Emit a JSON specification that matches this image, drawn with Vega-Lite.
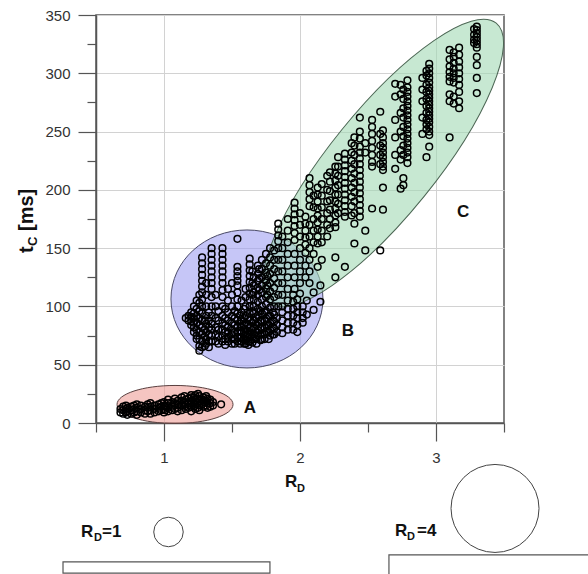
{
 "$schema": "https://vega.github.io/schema/vega-lite/v6.json",
 "width": 408, "height": 408,
 "autosize": "none",
 "padding": {"left": 96, "top": 15, "right": 84, "bottom": 151},
 "background": "white",
 "config": {"font": "Liberation Sans", "view": {"stroke": "#5a5a5a", "strokeWidth": 1.5}},
 "datasets": {
  "ellA": [{"r": 1.081, "t": 15.9}],
  "ellB": [{"r": 1.610, "t": 106.4}],
  "ellC": [{"r": 2.610, "t": 223.0}],
  "pts": [
{"r":0.68,"t":9},{"r":0.68,"t":12},
{"r":0.70,"t":8},{"r":0.70,"t":11},{"r":0.70,"t":14},
{"r":0.72,"t":9},{"r":0.72,"t":12},{"r":0.72,"t":15},
{"r":0.73,"t":7},{"r":0.73,"t":10},{"r":0.73,"t":13},
{"r":0.76,"t":8},{"r":0.76,"t":11},{"r":0.76,"t":14},
{"r":0.78,"t":9},{"r":0.78,"t":12},{"r":0.78,"t":15},
{"r":0.80,"t":7},{"r":0.80,"t":10},{"r":0.80,"t":13},{"r":0.80,"t":16},
{"r":0.83,"t":9},{"r":0.83,"t":12},{"r":0.83,"t":15},
{"r":0.86,"t":8},{"r":0.86,"t":11},{"r":0.86,"t":14},
{"r":0.88,"t":10},{"r":0.88,"t":13},{"r":0.88,"t":16},
{"r":0.90,"t":8},{"r":0.90,"t":11},{"r":0.90,"t":14},{"r":0.90,"t":17},
{"r":0.93,"t":9},{"r":0.93,"t":12},{"r":0.93,"t":15},
{"r":0.96,"t":10},{"r":0.96,"t":13},{"r":0.96,"t":16},
{"r":0.98,"t":11},{"r":0.98,"t":14},{"r":0.98,"t":17},
{"r":1.00,"t":9},{"r":1.00,"t":12},{"r":1.00,"t":15},{"r":1.00,"t":18},
{"r":1.01,"t":11},{"r":1.01,"t":14},
{"r":1.03,"t":10},{"r":1.03,"t":13},{"r":1.03,"t":17},{"r":1.03,"t":20},
{"r":1.06,"t":11},{"r":1.06,"t":14},{"r":1.06,"t":18},
{"r":1.08,"t":12},{"r":1.08,"t":15},{"r":1.08,"t":17},{"r":1.08,"t":21},
{"r":1.10,"t":10},{"r":1.10,"t":13},{"r":1.10,"t":16},{"r":1.10,"t":19},
{"r":1.13,"t":11},{"r":1.13,"t":15},{"r":1.13,"t":19},{"r":1.13,"t":22},
{"r":1.15,"t":14},{"r":1.15,"t":18},{"r":1.15,"t":23},
{"r":1.16,"t":12},{"r":1.16,"t":16},{"r":1.16,"t":20},
{"r":1.18,"t":13},{"r":1.18,"t":17},{"r":1.18,"t":21},
{"r":1.20,"t":10},{"r":1.20,"t":14},{"r":1.20,"t":18},{"r":1.20,"t":22},{"r":1.20,"t":24},
{"r":1.22,"t":14},{"r":1.22,"t":18},{"r":1.22,"t":22},
{"r":1.23,"t":12},{"r":1.23,"t":16},{"r":1.23,"t":20},{"r":1.23,"t":24},
{"r":1.25,"t":13},{"r":1.25,"t":17},{"r":1.25,"t":21},{"r":1.25,"t":25},
{"r":1.26,"t":11},{"r":1.26,"t":15},{"r":1.26,"t":19},{"r":1.26,"t":23},
{"r":1.28,"t":16},{"r":1.28,"t":20},
{"r":1.29,"t":14},{"r":1.29,"t":18},{"r":1.29,"t":22},
{"r":1.31,"t":15},{"r":1.31,"t":19},{"r":1.31,"t":23},
{"r":1.32,"t":13},{"r":1.32,"t":17},{"r":1.32,"t":21},
{"r":1.34,"t":14},{"r":1.34,"t":17},{"r":1.34,"t":20},
{"r":1.36,"t":15},{"r":1.36,"t":18},
{"r":1.42,"t":16},
{"r":1.16,"t":90},
{"r":1.18,"t":92},{"r":1.18,"t":88},
{"r":1.20,"t":95},{"r":1.20,"t":91},{"r":1.20,"t":87},{"r":1.20,"t":84},
{"r":1.22,"t":100},{"r":1.22,"t":94},{"r":1.22,"t":90},{"r":1.22,"t":86},{"r":1.22,"t":82},{"r":1.22,"t":78},
{"r":1.24,"t":105},{"r":1.24,"t":98},{"r":1.24,"t":92},{"r":1.24,"t":86},{"r":1.24,"t":80},{"r":1.24,"t":75},{"r":1.24,"t":72},
{"r":1.26,"t":110},{"r":1.26,"t":103},{"r":1.26,"t":96},{"r":1.26,"t":90},{"r":1.26,"t":84},{"r":1.26,"t":78},{"r":1.26,"t":72},{"r":1.26,"t":66},{"r":1.26,"t":62},
{"r":1.28,"t":142},{"r":1.28,"t":137},{"r":1.28,"t":132},{"r":1.28,"t":127},{"r":1.28,"t":122},{"r":1.28,"t":117},{"r":1.28,"t":112},{"r":1.28,"t":106},{"r":1.28,"t":100},{"r":1.28,"t":94},{"r":1.28,"t":88},{"r":1.28,"t":82},{"r":1.28,"t":76},{"r":1.28,"t":70},{"r":1.28,"t":65},
{"r":1.30,"t":88},{"r":1.30,"t":80},{"r":1.30,"t":74},{"r":1.30,"t":66},
{"r":1.31,"t":120},{"r":1.31,"t":110},{"r":1.31,"t":100},{"r":1.31,"t":92},{"r":1.31,"t":85},{"r":1.31,"t":78},{"r":1.31,"t":72},{"r":1.31,"t":68},
{"r":1.33,"t":95},{"r":1.33,"t":88},{"r":1.33,"t":82},{"r":1.33,"t":76},{"r":1.33,"t":70},{"r":1.33,"t":65},
{"r":1.35,"t":150},{"r":1.35,"t":145},{"r":1.35,"t":140},{"r":1.35,"t":135},{"r":1.35,"t":130},{"r":1.35,"t":125},{"r":1.35,"t":120},{"r":1.35,"t":115},{"r":1.35,"t":108},{"r":1.35,"t":100},{"r":1.35,"t":92},{"r":1.35,"t":85},{"r":1.35,"t":80},{"r":1.35,"t":75},{"r":1.35,"t":70},
{"r":1.38,"t":110},{"r":1.38,"t":100},{"r":1.38,"t":90},{"r":1.38,"t":82},{"r":1.38,"t":76},{"r":1.38,"t":70},
{"r":1.40,"t":96},{"r":1.40,"t":88},{"r":1.40,"t":80},{"r":1.40,"t":74},{"r":1.40,"t":68},
{"r":1.43,"t":150},{"r":1.43,"t":145},{"r":1.43,"t":140},{"r":1.43,"t":135},{"r":1.43,"t":130},{"r":1.43,"t":125},{"r":1.43,"t":120},{"r":1.43,"t":114},{"r":1.43,"t":108},{"r":1.43,"t":100},{"r":1.43,"t":92},{"r":1.43,"t":86},{"r":1.43,"t":80},{"r":1.43,"t":75},{"r":1.43,"t":70},
{"r":1.45,"t":98},{"r":1.45,"t":90},{"r":1.45,"t":84},{"r":1.45,"t":78},{"r":1.45,"t":72},{"r":1.45,"t":67},
{"r":1.47,"t":115},{"r":1.47,"t":105},{"r":1.47,"t":95},{"r":1.47,"t":88},{"r":1.47,"t":82},{"r":1.47,"t":78},{"r":1.47,"t":74},{"r":1.47,"t":70},
{"r":1.50,"t":120},{"r":1.50,"t":110},{"r":1.50,"t":100},{"r":1.50,"t":92},{"r":1.50,"t":86},{"r":1.50,"t":80},{"r":1.50,"t":76},{"r":1.50,"t":72},{"r":1.50,"t":68},
{"r":1.52,"t":96},{"r":1.52,"t":90},{"r":1.52,"t":84},{"r":1.52,"t":78},{"r":1.52,"t":72},{"r":1.52,"t":68},
{"r":1.54,"t":158},{"r":1.54,"t":134},{"r":1.54,"t":130},{"r":1.54,"t":126},{"r":1.54,"t":122},{"r":1.54,"t":118},{"r":1.54,"t":112},{"r":1.54,"t":106},{"r":1.54,"t":100},{"r":1.54,"t":94},{"r":1.54,"t":88},{"r":1.54,"t":82},{"r":1.54,"t":78},{"r":1.54,"t":74},{"r":1.54,"t":70},
{"r":1.56,"t":92},{"r":1.56,"t":85},{"r":1.56,"t":79},{"r":1.56,"t":73},{"r":1.56,"t":68},
{"r":1.57,"t":105},{"r":1.57,"t":95},{"r":1.57,"t":88},{"r":1.57,"t":82},{"r":1.57,"t":78},{"r":1.57,"t":74},{"r":1.57,"t":70},
{"r":1.59,"t":98},{"r":1.59,"t":90},{"r":1.59,"t":84},{"r":1.59,"t":78},{"r":1.59,"t":72},{"r":1.59,"t":68},
{"r":1.60,"t":115},{"r":1.60,"t":108},{"r":1.60,"t":100},{"r":1.60,"t":92},{"r":1.60,"t":86},{"r":1.60,"t":80},{"r":1.60,"t":76},{"r":1.60,"t":72},{"r":1.60,"t":68},
{"r":1.62,"t":90},{"r":1.62,"t":84},{"r":1.62,"t":76},{"r":1.62,"t":70},{"r":1.62,"t":67},
{"r":1.63,"t":141},{"r":1.63,"t":136},{"r":1.63,"t":131},{"r":1.63,"t":126},{"r":1.63,"t":121},{"r":1.63,"t":116},{"r":1.63,"t":111},{"r":1.63,"t":106},{"r":1.63,"t":100},{"r":1.63,"t":94},{"r":1.63,"t":88},{"r":1.63,"t":82},{"r":1.63,"t":78},{"r":1.63,"t":74},{"r":1.63,"t":70},
{"r":1.65,"t":130},{"r":1.65,"t":120},{"r":1.65,"t":110},{"r":1.65,"t":96},{"r":1.65,"t":86},{"r":1.65,"t":80},{"r":1.65,"t":74},{"r":1.65,"t":69},
{"r":1.66,"t":125},{"r":1.66,"t":118},{"r":1.66,"t":112},{"r":1.66,"t":106},{"r":1.66,"t":100},{"r":1.66,"t":94},{"r":1.66,"t":88},{"r":1.66,"t":82},{"r":1.66,"t":76},{"r":1.66,"t":72},
{"r":1.68,"t":90},{"r":1.68,"t":84},{"r":1.68,"t":78},{"r":1.68,"t":72},{"r":1.68,"t":68},
{"r":1.69,"t":135},{"r":1.69,"t":128},{"r":1.69,"t":122},{"r":1.69,"t":116},{"r":1.69,"t":110},{"r":1.69,"t":104},{"r":1.69,"t":98},{"r":1.69,"t":92},{"r":1.69,"t":86},{"r":1.69,"t":80},{"r":1.69,"t":75},
{"r":1.70,"t":132},{"r":1.70,"t":124},{"r":1.70,"t":114},
{"r":1.71,"t":96},{"r":1.71,"t":88},{"r":1.71,"t":82},{"r":1.71,"t":76},{"r":1.71,"t":71},
{"r":1.72,"t":140},{"r":1.72,"t":132},{"r":1.72,"t":125},{"r":1.72,"t":118},{"r":1.72,"t":112},{"r":1.72,"t":106},{"r":1.72,"t":100},{"r":1.72,"t":94},{"r":1.72,"t":88},{"r":1.72,"t":82},{"r":1.72,"t":77},{"r":1.72,"t":72},
{"r":1.74,"t":95},{"r":1.74,"t":88},{"r":1.74,"t":82},{"r":1.74,"t":76},{"r":1.74,"t":72},
{"r":1.75,"t":145},{"r":1.75,"t":137},{"r":1.75,"t":129},{"r":1.75,"t":122},{"r":1.75,"t":115},{"r":1.75,"t":108},{"r":1.75,"t":102},{"r":1.75,"t":96},{"r":1.75,"t":90},{"r":1.75,"t":84},{"r":1.75,"t":78},
{"r":1.76,"t":126},{"r":1.76,"t":118},{"r":1.76,"t":110},
{"r":1.77,"t":92},{"r":1.77,"t":84},{"r":1.77,"t":78},{"r":1.77,"t":72},
{"r":1.78,"t":150},{"r":1.78,"t":142},{"r":1.78,"t":135},{"r":1.78,"t":128},{"r":1.78,"t":120},{"r":1.78,"t":113},{"r":1.78,"t":106},{"r":1.78,"t":99},{"r":1.78,"t":92},{"r":1.78,"t":86},{"r":1.78,"t":80},{"r":1.78,"t":75},
{"r":1.80,"t":95},{"r":1.80,"t":88},{"r":1.80,"t":82},{"r":1.80,"t":76},
{"r":1.81,"t":148},{"r":1.81,"t":140},{"r":1.81,"t":132},{"r":1.81,"t":124},{"r":1.81,"t":116},{"r":1.81,"t":108},{"r":1.81,"t":100},{"r":1.81,"t":93},{"r":1.81,"t":87},{"r":1.81,"t":81},{"r":1.81,"t":76},
{"r":1.83,"t":90},{"r":1.83,"t":84},{"r":1.83,"t":78},
{"r":1.84,"t":171},{"r":1.84,"t":166},{"r":1.84,"t":161},{"r":1.84,"t":156},{"r":1.84,"t":150},{"r":1.84,"t":140},{"r":1.84,"t":130},{"r":1.84,"t":120},{"r":1.84,"t":110},{"r":1.84,"t":100},
{"r":1.87,"t":160},{"r":1.87,"t":150},{"r":1.87,"t":140},{"r":1.87,"t":130},{"r":1.87,"t":120},{"r":1.87,"t":110},{"r":1.87,"t":100},{"r":1.87,"t":95},{"r":1.87,"t":88},{"r":1.87,"t":82},{"r":1.87,"t":77},
{"r":1.91,"t":175},{"r":1.91,"t":165},{"r":1.91,"t":155},{"r":1.91,"t":145},{"r":1.91,"t":135},{"r":1.91,"t":125},{"r":1.91,"t":115},{"r":1.91,"t":105},{"r":1.91,"t":98},{"r":1.91,"t":92},{"r":1.91,"t":86},{"r":1.91,"t":80},
{"r":1.95,"t":110},{"r":1.95,"t":104},{"r":1.95,"t":98},{"r":1.95,"t":92},{"r":1.95,"t":86},{"r":1.95,"t":80},
{"r":1.96,"t":189},{"r":1.96,"t":184},{"r":1.96,"t":179},{"r":1.96,"t":174},{"r":1.96,"t":169},{"r":1.96,"t":163},{"r":1.96,"t":157},{"r":1.96,"t":145},{"r":1.96,"t":135},{"r":1.96,"t":125},{"r":1.96,"t":115},
{"r":1.98,"t":106},{"r":1.98,"t":100},{"r":1.98,"t":95},{"r":1.98,"t":90},{"r":1.98,"t":84},{"r":1.98,"t":78},
{"r":2.00,"t":180},{"r":2.00,"t":170},{"r":2.00,"t":160},{"r":2.00,"t":150},{"r":2.00,"t":140},{"r":2.00,"t":130},{"r":2.00,"t":120},{"r":2.00,"t":111},
{"r":2.02,"t":100},{"r":2.02,"t":95},{"r":2.02,"t":90},{"r":2.02,"t":86},
{"r":2.04,"t":177},{"r":2.04,"t":171},{"r":2.04,"t":165},{"r":2.04,"t":159},{"r":2.04,"t":153},{"r":2.04,"t":146},{"r":2.04,"t":135},{"r":2.04,"t":125},
{"r":2.05,"t":93},{"r":2.05,"t":105},
{"r":2.07,"t":210},{"r":2.07,"t":204},{"r":2.07,"t":198},{"r":2.07,"t":192},{"r":2.07,"t":186},{"r":2.07,"t":170},{"r":2.07,"t":160},{"r":2.07,"t":150},{"r":2.07,"t":140},{"r":2.07,"t":130},{"r":2.07,"t":120},
{"r":2.10,"t":195},{"r":2.10,"t":185},{"r":2.10,"t":175},{"r":2.10,"t":165},{"r":2.10,"t":155},{"r":2.10,"t":145},{"r":2.10,"t":97},{"r":2.10,"t":112},
{"r":2.13,"t":202},{"r":2.13,"t":196},{"r":2.13,"t":190},{"r":2.13,"t":184},{"r":2.13,"t":178},{"r":2.13,"t":172},{"r":2.13,"t":166},{"r":2.13,"t":160},{"r":2.13,"t":154},{"r":2.13,"t":134},
{"r":2.15,"t":104},{"r":2.15,"t":118},
{"r":2.16,"t":205},{"r":2.16,"t":195},{"r":2.16,"t":185},{"r":2.16,"t":175},{"r":2.16,"t":165},{"r":2.16,"t":155},{"r":2.16,"t":140},
{"r":2.20,"t":212},{"r":2.20,"t":200},{"r":2.20,"t":190},{"r":2.20,"t":180},{"r":2.20,"t":170},{"r":2.20,"t":160},
{"r":2.22,"t":215},{"r":2.22,"t":207},{"r":2.22,"t":199},{"r":2.22,"t":191},{"r":2.22,"t":183},{"r":2.22,"t":175},{"r":2.22,"t":167},
{"r":2.26,"t":220},{"r":2.26,"t":214},{"r":2.26,"t":208},{"r":2.26,"t":202},{"r":2.26,"t":196},{"r":2.26,"t":190},{"r":2.26,"t":184},{"r":2.26,"t":178},{"r":2.26,"t":172},{"r":2.26,"t":168},{"r":2.26,"t":142},{"r":2.26,"t":125},
{"r":2.28,"t":228},{"r":2.28,"t":220},{"r":2.28,"t":212},{"r":2.28,"t":204},{"r":2.28,"t":196},{"r":2.28,"t":188},{"r":2.28,"t":180},
{"r":2.33,"t":231},{"r":2.33,"t":226},{"r":2.33,"t":221},{"r":2.33,"t":216},{"r":2.33,"t":211},{"r":2.33,"t":206},{"r":2.33,"t":201},{"r":2.33,"t":196},{"r":2.33,"t":191},{"r":2.33,"t":186},{"r":2.33,"t":181},{"r":2.33,"t":177},{"r":2.33,"t":134},
{"r":2.38,"t":240},{"r":2.38,"t":232},{"r":2.38,"t":225},{"r":2.38,"t":218},{"r":2.38,"t":210},{"r":2.38,"t":202},{"r":2.38,"t":194},{"r":2.38,"t":186},{"r":2.38,"t":178},
{"r":2.40,"t":245},{"r":2.40,"t":238},{"r":2.40,"t":230},{"r":2.40,"t":222},{"r":2.40,"t":214},{"r":2.40,"t":206},{"r":2.40,"t":198},{"r":2.40,"t":190},{"r":2.40,"t":180},{"r":2.40,"t":171},{"r":2.40,"t":154},
{"r":2.44,"t":262},{"r":2.44,"t":250},{"r":2.44,"t":244},{"r":2.44,"t":237},{"r":2.44,"t":232},{"r":2.44,"t":227},{"r":2.44,"t":222},{"r":2.44,"t":217},{"r":2.44,"t":212},{"r":2.44,"t":207},{"r":2.44,"t":202},{"r":2.44,"t":197},{"r":2.44,"t":192},{"r":2.44,"t":187},{"r":2.44,"t":182},{"r":2.44,"t":177},
{"r":2.48,"t":240},{"r":2.48,"t":232},{"r":2.48,"t":165},{"r":2.48,"t":148},
{"r":2.53,"t":260},{"r":2.53,"t":254},{"r":2.53,"t":248},{"r":2.53,"t":242},{"r":2.53,"t":236},{"r":2.53,"t":230},{"r":2.53,"t":224},{"r":2.53,"t":220},{"r":2.53,"t":184},
{"r":2.59,"t":267},{"r":2.59,"t":248},{"r":2.59,"t":238},{"r":2.59,"t":230},{"r":2.59,"t":222},{"r":2.59,"t":148},
{"r":2.61,"t":251},{"r":2.61,"t":245},{"r":2.61,"t":240},{"r":2.61,"t":236},{"r":2.61,"t":232},{"r":2.61,"t":228},{"r":2.61,"t":224},{"r":2.61,"t":220},{"r":2.61,"t":217},{"r":2.61,"t":202},{"r":2.61,"t":183},
{"r":2.70,"t":291},{"r":2.70,"t":280},{"r":2.70,"t":260},{"r":2.70,"t":245},{"r":2.70,"t":230},{"r":2.70,"t":218},
{"r":2.74,"t":290},{"r":2.74,"t":282},{"r":2.74,"t":266},{"r":2.74,"t":250},{"r":2.74,"t":234},{"r":2.74,"t":226},{"r":2.74,"t":201},
{"r":2.76,"t":286},{"r":2.76,"t":278},{"r":2.76,"t":270},{"r":2.76,"t":262},{"r":2.76,"t":254},{"r":2.76,"t":246},{"r":2.76,"t":238},{"r":2.76,"t":230},{"r":2.76,"t":210},{"r":2.76,"t":204},
{"r":2.79,"t":294},{"r":2.79,"t":288},{"r":2.79,"t":284},{"r":2.79,"t":280},{"r":2.79,"t":276},{"r":2.79,"t":272},{"r":2.79,"t":268},{"r":2.79,"t":264},{"r":2.79,"t":260},{"r":2.79,"t":256},{"r":2.79,"t":252},{"r":2.79,"t":248},{"r":2.79,"t":244},{"r":2.79,"t":240},{"r":2.79,"t":236},{"r":2.79,"t":232},{"r":2.79,"t":228},{"r":2.79,"t":223},
{"r":2.90,"t":296},{"r":2.90,"t":286},{"r":2.90,"t":276},{"r":2.90,"t":262},{"r":2.90,"t":248},
{"r":2.93,"t":302},{"r":2.93,"t":298},{"r":2.93,"t":290},{"r":2.93,"t":284},{"r":2.93,"t":278},{"r":2.93,"t":272},{"r":2.93,"t":266},{"r":2.93,"t":260},{"r":2.93,"t":256},{"r":2.93,"t":252},{"r":2.93,"t":228},
{"r":2.95,"t":308},{"r":2.95,"t":304},{"r":2.95,"t":300},{"r":2.95,"t":296},{"r":2.95,"t":292},{"r":2.95,"t":288},{"r":2.95,"t":285},{"r":2.95,"t":282},{"r":2.95,"t":279},{"r":2.95,"t":276},{"r":2.95,"t":273},{"r":2.95,"t":270},{"r":2.95,"t":267},{"r":2.95,"t":264},{"r":2.95,"t":261},{"r":2.95,"t":258},{"r":2.95,"t":254},{"r":2.95,"t":250},{"r":2.95,"t":247},{"r":2.95,"t":237},
{"r":3.10,"t":320},{"r":3.10,"t":312},{"r":3.10,"t":306},{"r":3.10,"t":301},{"r":3.10,"t":297},{"r":3.10,"t":293},{"r":3.10,"t":282},{"r":3.10,"t":276},{"r":3.10,"t":245},
{"r":3.13,"t":318},{"r":3.13,"t":314},{"r":3.13,"t":309},{"r":3.13,"t":304},{"r":3.13,"t":300},{"r":3.13,"t":296},{"r":3.13,"t":292},{"r":3.13,"t":280},{"r":3.13,"t":274},
{"r":3.17,"t":322},{"r":3.17,"t":316},{"r":3.17,"t":310},{"r":3.17,"t":305},{"r":3.17,"t":300},{"r":3.17,"t":295},{"r":3.17,"t":290},{"r":3.17,"t":284},{"r":3.17,"t":276},{"r":3.17,"t":270},
{"r":3.28,"t":338},{"r":3.28,"t":333},{"r":3.28,"t":329},{"r":3.28,"t":326},
{"r":3.30,"t":340},{"r":3.30,"t":337},{"r":3.30,"t":334},{"r":3.30,"t":331},{"r":3.30,"t":328},{"r":3.30,"t":325},{"r":3.30,"t":322},{"r":3.30,"t":314},{"r":3.30,"t":307},{"r":3.30,"t":296},{"r":3.30,"t":283}
  ],
  "zones": [
   {"r": 1.632, "t": 12.9, "txt": "A"},
   {"r": 2.353, "t": 78.9, "txt": "B"},
   {"r": 3.199, "t": 181.0, "txt": "C"}
  ],
  "mainTxt": [
   {"r": 1.8897, "t": -54.9, "txt": "R"},
   {"r": 0.3897, "t": -97.8, "txt": "R"},
   {"r": 0.5441, "t": -97.8, "txt": "=1"},
   {"r": 2.6985, "t": -96.9, "txt": "R"},
   {"r": 2.8603, "t": -96.9, "txt": "=4"}
  ],
  "subTxt": [
   {"r": 1.978, "t": -59.2, "txt": "D"},
   {"r": 0.4853, "t": -101.2, "txt": "D"},
   {"r": 2.7868, "t": -100.4, "txt": "D"}
  ],
  "yMain": [
   {"r": 0.0368, "t": 145.8, "txt": "t"},
   {"r": 0.0368, "t": 164.7, "txt": "[ms]"}
  ],
  "ySub": [
   {"r": 0.0662, "t": 151.8, "txt": "C"}
  ],
  "rects": [
   {"r": 0.2574, "r2": 1.779, "t": -119.2, "t2": -128.7},
   {"r": 2.654, "r2": 4.3, "t": -113.2, "t2": -140}
  ],
  "circS": [{"r": 1.033, "t": -93.5}],
  "circL": [{"r": 3.434, "t": -73.3}]
 },
 "encoding": {
  "x": {"field": "r", "type": "quantitative", "scale": {"domain": [0.5, 3.5], "nice": false, "zero": false}, "axis": null},
  "y": {"field": "t", "type": "quantitative", "scale": {"domain": [0, 350], "nice": false, "zero": false}, "axis": null}
 },
 "layer": [
  {
   "data": {"name": "ellA"},
   "mark": {"type": "point", "shape": "M1,0C1,0.1809 0.5523,0.3276 0,0.3276C-0.5523,0.3276 -1,0.1809 -1,0C-1,-0.1809 -0.5523,-0.3276 0,-0.3276C0.5523,-0.3276 1,-0.1809 1,0Z", "size": 13456, "filled": true, "fill": "#ef9f98", "fillOpacity": 0.6, "stroke": "#5a4040", "strokeWidth": 1, "opacity": 1},
   "encoding": {
    "x": {"field": "r", "type": "quantitative", "scale": {"domain": [0.5, 3.5], "nice": false, "zero": false},
          "axis": {"values": [0.5, 1.5, 2.5, 3.5], "orient": "bottom", "grid": false, "labels": false, "domain": false, "tickSize": 9, "tickColor": "#555", "tickWidth": 1.2, "title": null}},
    "y": {"field": "t", "type": "quantitative", "scale": {"domain": [0, 350], "nice": false, "zero": false},
          "axis": {"values": [25, 75, 125, 175, 225, 275, 325], "orient": "left", "grid": false, "labels": false, "domain": false, "tickSize": 9, "tickColor": "#555", "tickWidth": 1.2, "title": null}}
   }
  },
  {
   "data": {"name": "ellB"},
   "mark": {"type": "point", "shape": "M1,0C1,0.5014 0.5523,0.9079 0,0.9079C-0.5523,0.9079 -1,0.5014 -1,0C-1,-0.5014 -0.5523,-0.9079 0,-0.9079C0.5523,-0.9079 1,-0.5014 1,0Z", "size": 23104, "filled": true, "fill": "#a0a0f2", "fillOpacity": 0.6, "stroke": "#4a4a66", "strokeWidth": 1, "opacity": 1}
  },
  {
   "data": {"name": "ellC"},
   "mark": {"type": "point", "shape": "M1,0C1,0.1626 0.5523,0.2944 0,0.2944C-0.5523,0.2944 -1,0.1626 -1,0C-1,-0.1626 -0.5523,-0.2944 0,-0.2944C0.5523,-0.2944 1,-0.1626 1,0Z", "size": 129600, "angle": 309, "filled": true, "fill": "#a2d8b4", "fillOpacity": 0.6, "stroke": "#4c6654", "strokeWidth": 1, "opacity": 1}
  },
  {
   "data": {"name": "pts"},
   "mark": {"type": "point", "shape": "circle", "filled": false, "stroke": "#000000", "strokeWidth": 1.5, "size": 45, "opacity": 1},
   "encoding": {
    "x": {"field": "r", "type": "quantitative", "scale": {"domain": [0.5, 3.5], "nice": false, "zero": false},
          "axis": {"values": [1, 2, 3], "orient": "bottom", "grid": true, "gridColor": "#d2d2d2", "gridWidth": 1, "tickSize": 18, "tickColor": "#555", "tickWidth": 1.2, "domainColor": "#555", "domainWidth": 1.5, "labelFontSize": 15, "labelColor": "#333", "labelPadding": 9, "labelFont": "Liberation Sans", "format": "d", "title": null}},
    "y": {"field": "t", "type": "quantitative", "scale": {"domain": [0, 350], "nice": false, "zero": false},
          "axis": {"values": [0, 50, 100, 150, 200, 250, 300, 350], "orient": "left", "grid": true, "gridColor": "#d2d2d2", "gridWidth": 1, "tickSize": 18, "tickColor": "#555", "tickWidth": 1.2, "domainColor": "#555", "domainWidth": 1.5, "labelFontSize": 15, "labelColor": "#333", "labelPadding": 8, "labelFont": "Liberation Sans", "format": "d", "title": null}}
   }
  },
  {
   "data": {"name": "zones"},
   "mark": {"type": "text", "font": "Liberation Sans", "fontWeight": "bold", "fontSize": 17, "align": "center", "baseline": "middle", "color": "#111"},
   "encoding": {"text": {"field": "txt"}}
  },
  {
   "data": {"name": "mainTxt"},
   "mark": {"type": "text", "font": "Liberation Sans", "fontWeight": "bold", "fontSize": 17, "align": "left", "baseline": "alphabetic", "color": "#111"},
   "encoding": {"text": {"field": "txt"}}
  },
  {
   "data": {"name": "subTxt"},
   "mark": {"type": "text", "font": "Liberation Sans", "fontWeight": "bold", "fontSize": 11, "align": "left", "baseline": "alphabetic", "color": "#111"},
   "encoding": {"text": {"field": "txt"}}
  },
  {
   "data": {"name": "yMain"},
   "mark": {"type": "text", "font": "Liberation Sans", "fontWeight": "bold", "fontSize": 20, "align": "left", "baseline": "alphabetic", "angle": 270, "color": "#111"},
   "encoding": {"text": {"field": "txt"}}
  },
  {
   "data": {"name": "ySub"},
   "mark": {"type": "text", "font": "Liberation Sans", "fontWeight": "bold", "fontSize": 13, "align": "left", "baseline": "alphabetic", "angle": 270, "color": "#111"},
   "encoding": {"text": {"field": "txt"}}
  },
  {
   "data": {"name": "rects"},
   "mark": {"type": "rect", "fill": "white", "stroke": "#555", "strokeWidth": 1.2},
   "encoding": {"x2": {"field": "r2"}, "y2": {"field": "t2"}}
  },
  {
   "data": {"name": "circS"},
   "mark": {"type": "point", "shape": "circle", "filled": false, "stroke": "#444", "strokeWidth": 1, "size": 870, "opacity": 1}
  },
  {
   "data": {"name": "circL"},
   "mark": {"type": "point", "shape": "circle", "filled": false, "stroke": "#444", "strokeWidth": 1, "size": 7744, "opacity": 1}
  }
 ],
 "resolve": {"axis": {"x": "independent", "y": "independent"}}
}
